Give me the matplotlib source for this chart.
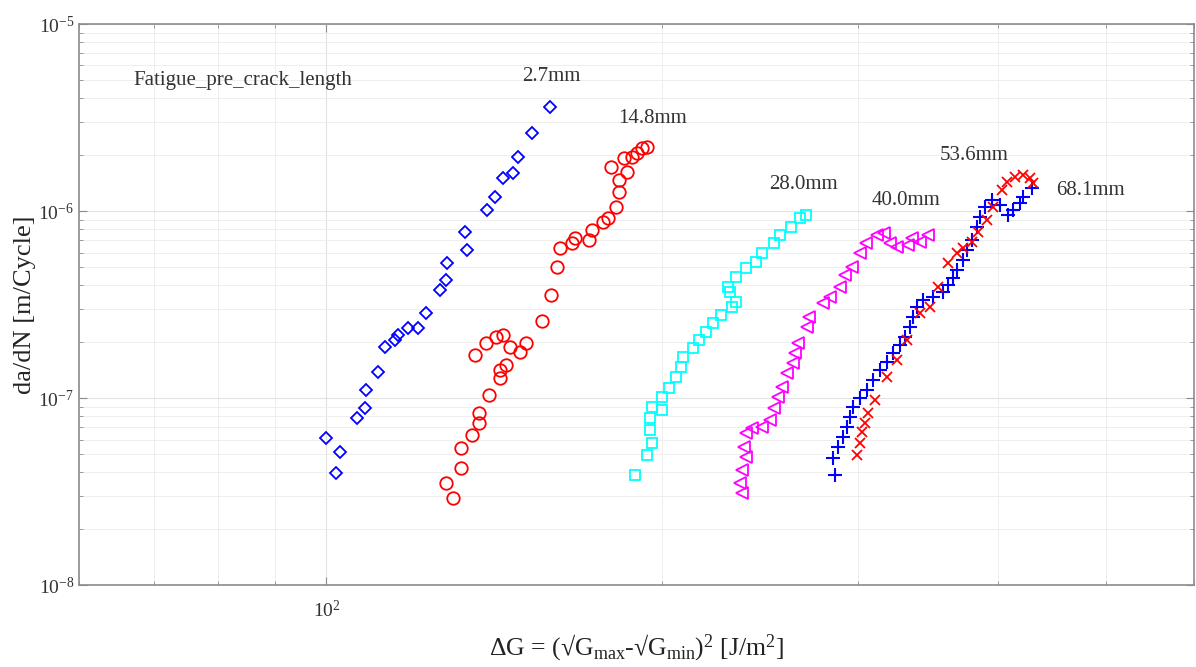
import numpy as np
import matplotlib
matplotlib.use("Agg")
import matplotlib.pyplot as plt
from matplotlib.ticker import LogLocator, NullFormatter

plt.rcParams['font.family'] = ['Liberation Serif', 'DejaVu Serif']
plt.rcParams['mathtext.fontset'] = 'custom'
plt.rcParams['mathtext.rm'] = 'Liberation Serif'
plt.rcParams['mathtext.it'] = 'Liberation Serif:italic'

# delta G [J/m^2] and da/dN [x 1e-8 m/cycle]
dg_27 = [99.9, 102.9, 102.0, 106.5, 108.3, 108.5, 111.3, 112.9, 115.2, 115.9, 118.4, 120.8, 122.8,
         126.4, 128.0, 128.3, 133.1, 133.7, 139.3, 141.7, 144.0, 147.0, 148.6, 152.9, 158.7]
dadn_27 = [6.11, 5.14, 3.97, 7.82, 8.84, 11, 13.8, 18.7, 20.4, 21.7, 23.7, 23.7, 28.5,
           37.8, 42.8, 52.7, 77.2, 61.9, 101, 119, 150, 160, 194, 261, 360]

dg_148 = [130, 128, 132, 132, 135, 137, 137, 140, 143, 143, 145, 136, 139, 142, 144, 146, 149, 151,
          156, 159, 161, 162, 166, 167, 172, 173, 177, 179, 182, 183, 183, 186, 180, 185, 188, 190, 192, 194]
dadn_148 = [2.92, 3.51, 4.22, 5.4, 6.34, 7.35, 8.31, 10.4, 12.8, 14.1, 15, 17, 19.7, 21.2, 21.7, 18.7,
            17.6, 19.7, 25.8, 35.5, 50.2, 63.4, 67.4, 71.7, 70, 79.1, 87.3, 91.7, 105, 126, 146, 162,
            172, 192, 194, 204, 217, 220]

dg_280 = [189, 194, 196, 195, 195, 196, 200, 200, 203, 206, 208, 209, 213, 216, 219, 222, 226, 231,
          233, 230, 229, 233, 238, 243, 246, 252, 255, 261, 266, 269]
dadn_280 = [3.87, 4.96, 5.75, 6.74, 7.82, 8.95, 8.63, 10.1, 11.3, 13, 14.6, 16.6, 18.5, 20.4, 22.5,
            25.2, 27.8, 30.7, 32.6, 36.9, 39.2, 44.4, 49.6, 53.4, 59.6, 67.4, 74.4, 82.1, 91.7, 95.2]

dg_400 = [236, 235, 236, 238, 237, 238, 241, 246, 250, 252, 254, 256, 259, 262, 263, 265, 270, 271,
          279, 283, 289, 292, 296, 301, 305, 312, 316, 320, 325, 332, 335, 341, 346]
dadn_400 = [3.1, 3.51, 4.12, 4.84, 5.47, 6.5, 6.91, 7, 7.63, 8.84, 10.1, 11.5, 13.6, 15.4, 17.4, 19.7,
            24, 27.1, 32.2, 34.7, 39.2, 45.5, 50.2, 59.6, 67.4, 74.4, 76.3, 67.4, 64.2, 65.8, 71.7,
            68.3, 74.4]

dg_536 = [299.2, 301.0, 302.3, 304.1, 306.0, 310.5, 318.3, 324.9, 331.7, 340.7, 347.8, 353.6, 361.0,
          367.8, 372.4, 379.4, 384.1, 391.3, 396.2, 403.6, 407.8, 414.6, 421.5, 427.6, 430.3]
dadn_536 = [4.96, 5.75, 6.58, 7.35, 8.31, 9.76, 13, 16, 20.4, 28.5, 30.7, 39.2, 52.7, 59.6, 63.4,
            68.3, 77.2, 89.5, 105, 130, 143, 152, 156, 150, 141]

dg_681 = [285.9, 284.7, 287.7, 290.6, 293.0, 294.9, 296.7, 301.0, 305.4, 309.2, 313.7, 318.3, 322.3,
          326.9, 330.3, 333.8, 335.8, 338.6, 342.8, 350.0, 357.3, 361.0, 364.8, 367.8, 372.4, 375.5,
          379.4, 383.3, 385.7, 389.7, 395.4, 401.9, 408.6, 412.9, 418.9, 421.5, 429.4]
dadn_681 = [3.87, 4.78, 5.47, 6.19, 7, 7.91, 8.95, 10, 11, 12.5, 14.1, 15.6, 17.4, 19.2, 21.2, 24,
            27.1, 30.7, 33.4, 34.7, 36.9, 40.2, 43.8, 48.4, 54.7, 61.9, 70, 82.1, 92.9, 105, 115, 108,
            95.2, 101, 110, 119, 133]

fig = plt.figure(figsize=(11.96, 6.67), dpi=100)
ax = fig.add_axes([0.0661, 0.1229, 0.9323, 0.8411])

kw = dict(linestyle='none', markerfacecolor='none', markeredgewidth=1.3)
ax.plot(dg_27, np.array(dadn_27) * 1e-8, marker='D', color='#0000ff', markersize=6.5, **kw)
ax.plot(dg_148, np.array(dadn_148) * 1e-8, marker='o', color='#ff0000', markersize=9, **kw)
ax.plot(dg_280, np.array(dadn_280) * 1e-8, marker='s', color='#00ffff', markersize=7, **kw)
ax.plot(dg_400, np.array(dadn_400) * 1e-8, marker='<', color='#ff00ff', markersize=9, **kw)
ax.plot(dg_681, np.array(dadn_681) * 1e-8, marker='+', color='#0000ff', markersize=10,
        linestyle='none', markeredgewidth=1.5)
ax.plot(dg_536, np.array(dadn_536) * 1e-8, marker='x', color='#ff0000', markersize=7,
        linestyle='none', markeredgewidth=1.3)

ax.set_xscale('log')
ax.set_yscale('log')
ax.set_xlim(60, 600)
ax.set_ylim(1e-8, 1e-5)
ax.xaxis.set_minor_locator(LogLocator(base=10, subs=np.arange(2, 10)))
ax.yaxis.set_minor_locator(LogLocator(base=10, subs=np.arange(2, 10)))
ax.xaxis.set_minor_formatter(NullFormatter())
ax.yaxis.set_minor_formatter(NullFormatter())

ax.grid(True, which='major', color='#e2e2e2', linewidth=0.8)
ax.grid(True, which='minor', color='#eeeeee', linewidth=0.7)
ax.set_axisbelow(True)
for s in ax.spines.values():
    s.set_color('#8c8c8c')
    s.set_linewidth(1.2)
ax.tick_params(which='both', direction='in', top=True, right=True, colors='#8c8c8c',
               labelcolor='#333333', labelsize=14)
ax.tick_params(which='major', length=6)
ax.tick_params(which='minor', length=3)
ax.tick_params(axis='x', which='major', pad=11)

ax.set_ylabel('da/dN [m/Cycle]', fontsize=19, color='#222222', labelpad=2)
ax.set_xlabel('\u0394G = (\u221aG$_{\\mathrm{max}}$-\u221aG$_{\\mathrm{min}}$)$^2$ [J/m$^2$]',
              fontsize=18.5, color='#222222', labelpad=8)

txt = dict(transform=ax.transAxes, fontsize=15, color='#333333', va='center')
ax.text(0.0484, 0.900, 'Fatigue_pre_crack_length', ha='left', **txt)
ax.text(0.4233, 0.906, '2.7mm', ha='center', **txt)
ax.text(0.514, 0.831, '14.8mm', ha='center', **txt)
ax.text(0.650, 0.714, '28.0mm', ha='center', **txt)
ax.text(0.742, 0.686, '40.0mm', ha='center', **txt)
ax.text(0.803, 0.766, '53.6mm', ha='center', **txt)
ax.text(0.907, 0.704, '68.1mm', ha='center', **txt)

fig.savefig('out.png', dpi=100)
